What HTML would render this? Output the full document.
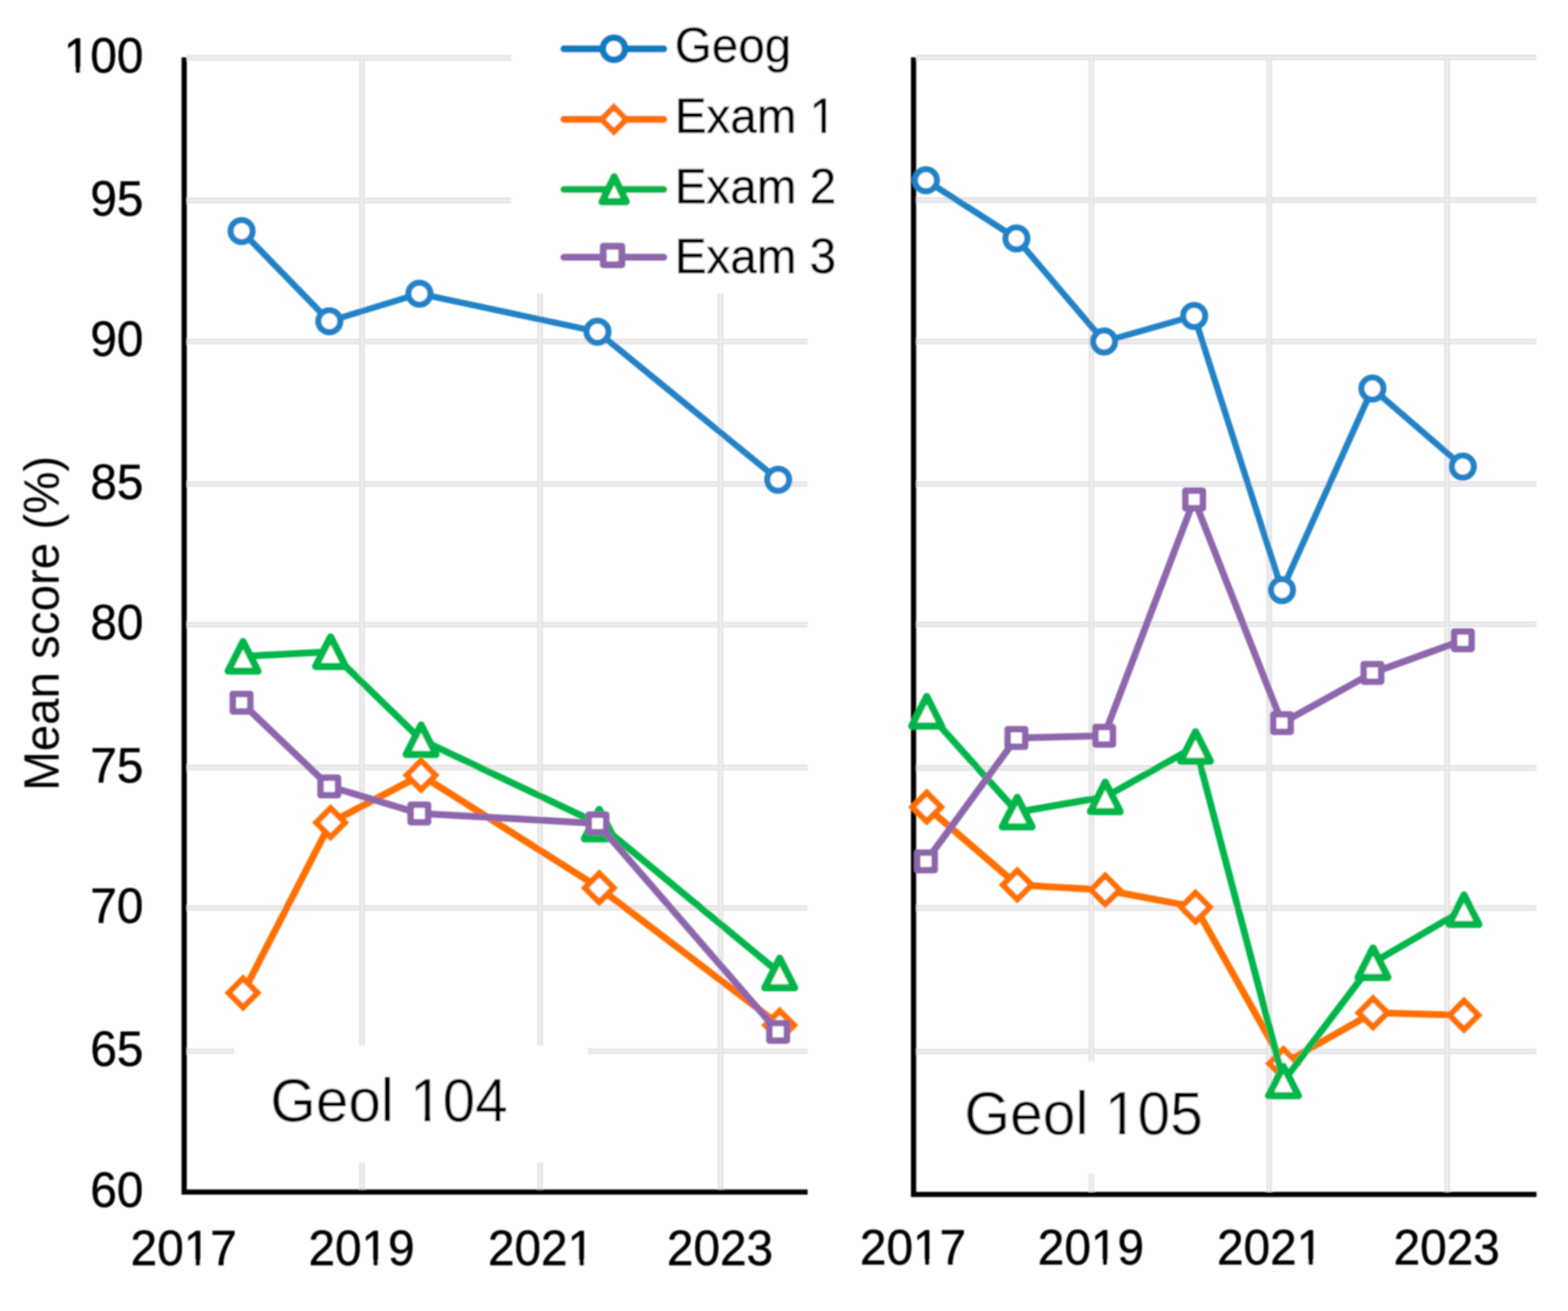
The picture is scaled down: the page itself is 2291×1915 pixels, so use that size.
<!DOCTYPE html>
<html><head><meta charset="utf-8"><title>Mean score chart</title>
<style>
html,body{margin:0;padding:0;background:#fff;}
body{width:2291px;height:1915px;overflow:hidden;}
svg{display:block;}
text{font-family:'Liberation Sans', Arial, sans-serif;fill:#000;font-kerning:none;}
.b{stroke:#000;stroke-width:0.7px;}
</style></head>
<body>
<svg width="2291" height="1915" viewBox="0 0 2291 1915">
<defs><filter id="soft" filterUnits="userSpaceOnUse" x="0" y="0" width="2291" height="1915"><feGaussianBlur stdDeviation="1"/></filter></defs>
<rect width="2291" height="1915" fill="#fff"/>
<g filter="url(#soft)">
<line x1="272.6" y1="84.4" x2="1180" y2="84.4" stroke="#f1f1f1" stroke-width="7.6"/><line x1="272.6" y1="81.6" x2="1180" y2="81.6" stroke="#dddddd" stroke-width="2"/><line x1="272.6" y1="87.2" x2="1180" y2="87.2" stroke="#dddddd" stroke-width="2"/>
<line x1="272.6" y1="292.9" x2="1180" y2="292.9" stroke="#f1f1f1" stroke-width="7.6"/><line x1="272.6" y1="290.1" x2="1180" y2="290.1" stroke="#dddddd" stroke-width="2"/><line x1="272.6" y1="295.7" x2="1180" y2="295.7" stroke="#dddddd" stroke-width="2"/>
<line x1="272.6" y1="498.7" x2="1180" y2="498.7" stroke="#f1f1f1" stroke-width="7.6"/><line x1="272.6" y1="495.9" x2="1180" y2="495.9" stroke="#dddddd" stroke-width="2"/><line x1="272.6" y1="501.5" x2="1180" y2="501.5" stroke="#dddddd" stroke-width="2"/>
<line x1="272.6" y1="707" x2="1180" y2="707" stroke="#f1f1f1" stroke-width="7.6"/><line x1="272.6" y1="704.2" x2="1180" y2="704.2" stroke="#dddddd" stroke-width="2"/><line x1="272.6" y1="709.8" x2="1180" y2="709.8" stroke="#dddddd" stroke-width="2"/>
<line x1="272.6" y1="912.5" x2="1180" y2="912.5" stroke="#f1f1f1" stroke-width="7.6"/><line x1="272.6" y1="909.7" x2="1180" y2="909.7" stroke="#dddddd" stroke-width="2"/><line x1="272.6" y1="915.3" x2="1180" y2="915.3" stroke="#dddddd" stroke-width="2"/>
<line x1="272.6" y1="1121.4" x2="1180" y2="1121.4" stroke="#f1f1f1" stroke-width="7.6"/><line x1="272.6" y1="1118.6" x2="1180" y2="1118.6" stroke="#dddddd" stroke-width="2"/><line x1="272.6" y1="1124.2" x2="1180" y2="1124.2" stroke="#dddddd" stroke-width="2"/>
<line x1="272.6" y1="1326.3" x2="1180" y2="1326.3" stroke="#f1f1f1" stroke-width="7.6"/><line x1="272.6" y1="1323.5" x2="1180" y2="1323.5" stroke="#dddddd" stroke-width="2"/><line x1="272.6" y1="1329.1" x2="1180" y2="1329.1" stroke="#dddddd" stroke-width="2"/>
<line x1="272.6" y1="1535.5" x2="1180" y2="1535.5" stroke="#f1f1f1" stroke-width="7.6"/><line x1="272.6" y1="1532.7" x2="1180" y2="1532.7" stroke="#dddddd" stroke-width="2"/><line x1="272.6" y1="1538.3" x2="1180" y2="1538.3" stroke="#dddddd" stroke-width="2"/>
<line x1="528.9" y1="84.4" x2="528.9" y2="1741.3" stroke="#f1f1f1" stroke-width="7.6"/><line x1="526.1" y1="84.4" x2="526.1" y2="1741.3" stroke="#dddddd" stroke-width="2"/><line x1="531.7" y1="84.4" x2="531.7" y2="1741.3" stroke="#dddddd" stroke-width="2"/>
<line x1="789.3" y1="84.4" x2="789.3" y2="1741.3" stroke="#f1f1f1" stroke-width="7.6"/><line x1="786.5" y1="84.4" x2="786.5" y2="1741.3" stroke="#dddddd" stroke-width="2"/><line x1="792.1" y1="84.4" x2="792.1" y2="1741.3" stroke="#dddddd" stroke-width="2"/>
<line x1="1052.7" y1="84.4" x2="1052.7" y2="1741.3" stroke="#f1f1f1" stroke-width="7.6"/><line x1="1049.9" y1="84.4" x2="1049.9" y2="1741.3" stroke="#dddddd" stroke-width="2"/><line x1="1055.5" y1="84.4" x2="1055.5" y2="1741.3" stroke="#dddddd" stroke-width="2"/>
<line x1="1338.3" y1="84" x2="2245" y2="84" stroke="#f1f1f1" stroke-width="7.6"/><line x1="1338.3" y1="81.2" x2="2245" y2="81.2" stroke="#dddddd" stroke-width="2"/><line x1="1338.3" y1="86.8" x2="2245" y2="86.8" stroke="#dddddd" stroke-width="2"/>
<line x1="1338.3" y1="292.3" x2="2245" y2="292.3" stroke="#f1f1f1" stroke-width="7.6"/><line x1="1338.3" y1="289.5" x2="2245" y2="289.5" stroke="#dddddd" stroke-width="2"/><line x1="1338.3" y1="295.1" x2="2245" y2="295.1" stroke="#dddddd" stroke-width="2"/>
<line x1="1338.3" y1="498.8" x2="2245" y2="498.8" stroke="#f1f1f1" stroke-width="7.6"/><line x1="1338.3" y1="496" x2="2245" y2="496" stroke="#dddddd" stroke-width="2"/><line x1="1338.3" y1="501.6" x2="2245" y2="501.6" stroke="#dddddd" stroke-width="2"/>
<line x1="1338.3" y1="707" x2="2245" y2="707" stroke="#f1f1f1" stroke-width="7.6"/><line x1="1338.3" y1="704.2" x2="2245" y2="704.2" stroke="#dddddd" stroke-width="2"/><line x1="1338.3" y1="709.8" x2="2245" y2="709.8" stroke="#dddddd" stroke-width="2"/>
<line x1="1338.3" y1="911.8" x2="2245" y2="911.8" stroke="#f1f1f1" stroke-width="7.6"/><line x1="1338.3" y1="909" x2="2245" y2="909" stroke="#dddddd" stroke-width="2"/><line x1="1338.3" y1="914.6" x2="2245" y2="914.6" stroke="#dddddd" stroke-width="2"/>
<line x1="1338.3" y1="1121.7" x2="2245" y2="1121.7" stroke="#f1f1f1" stroke-width="7.6"/><line x1="1338.3" y1="1118.9" x2="2245" y2="1118.9" stroke="#dddddd" stroke-width="2"/><line x1="1338.3" y1="1124.5" x2="2245" y2="1124.5" stroke="#dddddd" stroke-width="2"/>
<line x1="1338.3" y1="1326.4" x2="2245" y2="1326.4" stroke="#f1f1f1" stroke-width="7.6"/><line x1="1338.3" y1="1323.6" x2="2245" y2="1323.6" stroke="#dddddd" stroke-width="2"/><line x1="1338.3" y1="1329.2" x2="2245" y2="1329.2" stroke="#dddddd" stroke-width="2"/>
<line x1="1338.3" y1="1535.8" x2="2245" y2="1535.8" stroke="#f1f1f1" stroke-width="7.6"/><line x1="1338.3" y1="1533" x2="2245" y2="1533" stroke="#dddddd" stroke-width="2"/><line x1="1338.3" y1="1538.6" x2="2245" y2="1538.6" stroke="#dddddd" stroke-width="2"/>
<line x1="1594.6" y1="84" x2="1594.6" y2="1744.8" stroke="#f1f1f1" stroke-width="7.6"/><line x1="1591.8" y1="84" x2="1591.8" y2="1744.8" stroke="#dddddd" stroke-width="2"/><line x1="1597.4" y1="84" x2="1597.4" y2="1744.8" stroke="#dddddd" stroke-width="2"/>
<line x1="1854.4" y1="84" x2="1854.4" y2="1744.8" stroke="#f1f1f1" stroke-width="7.6"/><line x1="1851.6" y1="84" x2="1851.6" y2="1744.8" stroke="#dddddd" stroke-width="2"/><line x1="1857.2" y1="84" x2="1857.2" y2="1744.8" stroke="#dddddd" stroke-width="2"/>
<line x1="2114.4" y1="84" x2="2114.4" y2="1744.8" stroke="#f1f1f1" stroke-width="7.6"/><line x1="2111.6" y1="84" x2="2111.6" y2="1744.8" stroke="#dddddd" stroke-width="2"/><line x1="2117.2" y1="84" x2="2117.2" y2="1744.8" stroke="#dddddd" stroke-width="2"/>
<rect x="747" y="0" width="480" height="428.5" fill="#fff"/>
<rect x="342" y="1527" width="517" height="171" fill="#fff"/>
<rect x="1345" y="1550" width="500" height="164.5" fill="#fff"/>
<path d="M269.1,83.7 V1741.3 H1180" fill="none" stroke="#000" stroke-width="7.6" stroke-linejoin="miter"/>
<path d="M1334.8,83.7 V1744.8 H2245" fill="none" stroke="#000" stroke-width="7.6" stroke-linejoin="miter"/>
<polyline points="353,337.5 481.2,469.2 612.8,428.9 873,484.6 1137,700.7" fill="none" stroke="#2182c6" stroke-width="9.2" stroke-linejoin="round" stroke-linecap="round"/>
<circle cx="353" cy="337.5" r="16" fill="#fff" stroke="#2182c6" stroke-width="9"/>
<circle cx="481.2" cy="469.2" r="16" fill="#fff" stroke="#2182c6" stroke-width="9"/>
<circle cx="612.8" cy="428.9" r="16" fill="#fff" stroke="#2182c6" stroke-width="9"/>
<circle cx="873" cy="484.6" r="16" fill="#fff" stroke="#2182c6" stroke-width="9"/>
<circle cx="1137" cy="700.7" r="16" fill="#fff" stroke="#2182c6" stroke-width="9"/>
<polyline points="355.1,1450.3 483,1201.6 615.2,1132.3 875.6,1296.9 1139.2,1497.6" fill="none" stroke="#ff7000" stroke-width="10" stroke-linejoin="round" stroke-linecap="round"/>
<polygon points="355.1,1429.3 376.1,1450.3 355.1,1471.3 334.1,1450.3" fill="#fff" stroke="#ff7000" stroke-width="8.6" stroke-linejoin="miter" stroke-miterlimit="10"/>
<polygon points="483,1180.6 504,1201.6 483,1222.6 462,1201.6" fill="#fff" stroke="#ff7000" stroke-width="8.6" stroke-linejoin="miter" stroke-miterlimit="10"/>
<polygon points="615.2,1111.3 636.2,1132.3 615.2,1153.3 594.2,1132.3" fill="#fff" stroke="#ff7000" stroke-width="8.6" stroke-linejoin="miter" stroke-miterlimit="10"/>
<polygon points="875.6,1275.9 896.6,1296.9 875.6,1317.9 854.6,1296.9" fill="#fff" stroke="#ff7000" stroke-width="8.6" stroke-linejoin="miter" stroke-miterlimit="10"/>
<polygon points="1139.2,1476.6 1160.2,1497.6 1139.2,1518.6 1118.2,1497.6" fill="#fff" stroke="#ff7000" stroke-width="8.6" stroke-linejoin="miter" stroke-miterlimit="10"/>
<polyline points="355.1,958.8 483,951.9 615.2,1080.5 875.6,1203.7 1139.2,1421.3" fill="none" stroke="#00b64b" stroke-width="10" stroke-linejoin="round" stroke-linecap="round"/>
<polygon points="355.1,937.3 376.9,980.3 333.4,980.3" fill="#fff" stroke="#00b64b" stroke-width="10.5" stroke-linejoin="round"/>
<polygon points="483,930.4 504.8,973.4 461.2,973.4" fill="#fff" stroke="#00b64b" stroke-width="10.5" stroke-linejoin="round"/>
<polygon points="615.2,1059 637,1102 593.5,1102" fill="#fff" stroke="#00b64b" stroke-width="10.5" stroke-linejoin="round"/>
<polygon points="875.6,1182.2 897.4,1225.2 853.9,1225.2" fill="#fff" stroke="#00b64b" stroke-width="10.5" stroke-linejoin="round"/>
<polygon points="1139.2,1399.8 1161,1442.8 1117.5,1442.8" fill="#fff" stroke="#00b64b" stroke-width="10.5" stroke-linejoin="round"/>
<polyline points="353,1026.4 481.2,1148.8 612.8,1188.2 873,1202.7 1137,1507.3" fill="none" stroke="#8e66ac" stroke-width="10" stroke-linejoin="round" stroke-linecap="round"/>
<rect x="340.2" y="1013.7" width="25.5" height="25.5" fill="#fff" stroke="#8e66ac" stroke-width="9.5" stroke-linejoin="round"/>
<rect x="468.4" y="1136" width="25.5" height="25.5" fill="#fff" stroke="#8e66ac" stroke-width="9.5" stroke-linejoin="round"/>
<rect x="600" y="1175.5" width="25.5" height="25.5" fill="#fff" stroke="#8e66ac" stroke-width="9.5" stroke-linejoin="round"/>
<rect x="860.2" y="1190" width="25.5" height="25.5" fill="#fff" stroke="#8e66ac" stroke-width="9.5" stroke-linejoin="round"/>
<rect x="1124.2" y="1494.5" width="25.5" height="25.5" fill="#fff" stroke="#8e66ac" stroke-width="9.5" stroke-linejoin="round"/>
<polyline points="1352.9,263.3 1485.1,348.2 1613.2,498.8 1744.8,461.4 1873.1,861.9 2005.2,567.5 2137.3,681.6" fill="none" stroke="#2182c6" stroke-width="9.2" stroke-linejoin="round" stroke-linecap="round"/>
<circle cx="1352.9" cy="263.3" r="16" fill="#fff" stroke="#2182c6" stroke-width="9"/>
<circle cx="1485.1" cy="348.2" r="16" fill="#fff" stroke="#2182c6" stroke-width="9"/>
<circle cx="1613.2" cy="498.8" r="16" fill="#fff" stroke="#2182c6" stroke-width="9"/>
<circle cx="1744.8" cy="461.4" r="16" fill="#fff" stroke="#2182c6" stroke-width="9"/>
<circle cx="1873.1" cy="861.9" r="16" fill="#fff" stroke="#2182c6" stroke-width="9"/>
<circle cx="2005.2" cy="567.5" r="16" fill="#fff" stroke="#2182c6" stroke-width="9"/>
<circle cx="2137.3" cy="681.6" r="16" fill="#fff" stroke="#2182c6" stroke-width="9"/>
<polyline points="1354,1178.9 1486.3,1292.6 1614.9,1300 1746.8,1325.2 1875.3,1553.5 2006.1,1479.4 2139,1482.9" fill="none" stroke="#ff7000" stroke-width="10" stroke-linejoin="round" stroke-linecap="round"/>
<polygon points="1354,1157.9 1375,1178.9 1354,1199.9 1333,1178.9" fill="#fff" stroke="#ff7000" stroke-width="8.6" stroke-linejoin="miter" stroke-miterlimit="10"/>
<polygon points="1486.3,1271.6 1507.3,1292.6 1486.3,1313.6 1465.3,1292.6" fill="#fff" stroke="#ff7000" stroke-width="8.6" stroke-linejoin="miter" stroke-miterlimit="10"/>
<polygon points="1614.9,1279 1635.9,1300 1614.9,1321 1593.9,1300" fill="#fff" stroke="#ff7000" stroke-width="8.6" stroke-linejoin="miter" stroke-miterlimit="10"/>
<polygon points="1746.8,1304.2 1767.8,1325.2 1746.8,1346.2 1725.8,1325.2" fill="#fff" stroke="#ff7000" stroke-width="8.6" stroke-linejoin="miter" stroke-miterlimit="10"/>
<polygon points="1875.3,1532.5 1896.3,1553.5 1875.3,1574.5 1854.3,1553.5" fill="#fff" stroke="#ff7000" stroke-width="8.6" stroke-linejoin="miter" stroke-miterlimit="10"/>
<polygon points="2006.1,1458.4 2027.1,1479.4 2006.1,1500.4 1985.1,1479.4" fill="#fff" stroke="#ff7000" stroke-width="8.6" stroke-linejoin="miter" stroke-miterlimit="10"/>
<polygon points="2139,1461.9 2160,1482.9 2139,1503.9 2118,1482.9" fill="#fff" stroke="#ff7000" stroke-width="8.6" stroke-linejoin="miter" stroke-miterlimit="10"/>
<polyline points="1354,1039 1486.3,1186.3 1614.9,1164 1746.8,1090.4 1875.3,1579 2006.1,1406.2 2139,1328.8" fill="none" stroke="#00b64b" stroke-width="10" stroke-linejoin="round" stroke-linecap="round"/>
<polygon points="1354,1017.5 1375.8,1060.5 1332.2,1060.5" fill="#fff" stroke="#00b64b" stroke-width="10.5" stroke-linejoin="round"/>
<polygon points="1486.3,1164.8 1508,1207.8 1464.5,1207.8" fill="#fff" stroke="#00b64b" stroke-width="10.5" stroke-linejoin="round"/>
<polygon points="1614.9,1142.5 1636.7,1185.5 1593.2,1185.5" fill="#fff" stroke="#00b64b" stroke-width="10.5" stroke-linejoin="round"/>
<polygon points="1746.8,1068.9 1768.5,1111.9 1725,1111.9" fill="#fff" stroke="#00b64b" stroke-width="10.5" stroke-linejoin="round"/>
<polygon points="1875.3,1557.5 1897,1600.5 1853.5,1600.5" fill="#fff" stroke="#00b64b" stroke-width="10.5" stroke-linejoin="round"/>
<polygon points="2006.1,1384.7 2027.8,1427.7 1984.3,1427.7" fill="#fff" stroke="#00b64b" stroke-width="10.5" stroke-linejoin="round"/>
<polygon points="2139,1307.3 2160.8,1350.3 2117.2,1350.3" fill="#fff" stroke="#00b64b" stroke-width="10.5" stroke-linejoin="round"/>
<polyline points="1352.9,1258.3 1485.1,1077.9 1613.2,1074.8 1744.8,729.5 1873.1,1056.2 2005.2,983 2137.3,935.2" fill="none" stroke="#8e66ac" stroke-width="10" stroke-linejoin="round" stroke-linecap="round"/>
<rect x="1340.2" y="1245.5" width="25.5" height="25.5" fill="#fff" stroke="#8e66ac" stroke-width="9.5" stroke-linejoin="round"/>
<rect x="1472.3" y="1065.2" width="25.5" height="25.5" fill="#fff" stroke="#8e66ac" stroke-width="9.5" stroke-linejoin="round"/>
<rect x="1600.5" y="1062" width="25.5" height="25.5" fill="#fff" stroke="#8e66ac" stroke-width="9.5" stroke-linejoin="round"/>
<rect x="1732" y="716.8" width="25.5" height="25.5" fill="#fff" stroke="#8e66ac" stroke-width="9.5" stroke-linejoin="round"/>
<rect x="1860.3" y="1043.5" width="25.5" height="25.5" fill="#fff" stroke="#8e66ac" stroke-width="9.5" stroke-linejoin="round"/>
<rect x="1992.5" y="970.2" width="25.5" height="25.5" fill="#fff" stroke="#8e66ac" stroke-width="9.5" stroke-linejoin="round"/>
<rect x="2124.6" y="922.5" width="25.5" height="25.5" fill="#fff" stroke="#8e66ac" stroke-width="9.5" stroke-linejoin="round"/>
<g transform="translate(209.5,106) scale(0.955,1)"><text font-size="73" text-anchor="end" class="b">100</text><rect x="-117.1" y="-6.5" width="13.3" height="8" fill="#fff"/><rect x="-96.6" y="-6.5" width="13.1" height="8" fill="#fff"/></g>
<g transform="translate(209.5,314.5) scale(0.955,1)"><text font-size="73" text-anchor="end" class="b">95</text></g>
<g transform="translate(209.5,520.3) scale(0.955,1)"><text font-size="73" text-anchor="end" class="b">90</text></g>
<g transform="translate(209.5,728.6) scale(0.955,1)"><text font-size="73" text-anchor="end" class="b">85</text></g>
<g transform="translate(209.5,934.1) scale(0.955,1)"><text font-size="73" text-anchor="end" class="b">80</text></g>
<g transform="translate(209.5,1143) scale(0.955,1)"><text font-size="73" text-anchor="end" class="b">75</text></g>
<g transform="translate(209.5,1347.9) scale(0.955,1)"><text font-size="73" text-anchor="end" class="b">70</text></g>
<g transform="translate(209.5,1557.1) scale(0.955,1)"><text font-size="73" text-anchor="end" class="b">65</text></g>
<g transform="translate(209.5,1762.9) scale(0.955,1)"><text font-size="73" text-anchor="end" class="b">60</text></g>
<g transform="translate(268.4,1847.6) scale(0.955,1)"><text font-size="73" text-anchor="middle" class="b">2017</text><rect x="4.7" y="-6.5" width="13.3" height="8" fill="#fff"/><rect x="25.2" y="-6.5" width="13.1" height="8" fill="#fff"/></g>
<g transform="translate(528.2,1847.6) scale(0.955,1)"><text font-size="73" text-anchor="middle" class="b">2019</text><rect x="4.7" y="-6.5" width="13.3" height="8" fill="#fff"/><rect x="25.2" y="-6.5" width="13.1" height="8" fill="#fff"/></g>
<g transform="translate(790.6,1847.6) scale(0.955,1)"><text font-size="73" text-anchor="middle" class="b">2021</text><rect x="45.3" y="-6.5" width="13.3" height="8" fill="#fff"/><rect x="65.8" y="-6.5" width="13.1" height="8" fill="#fff"/></g>
<g transform="translate(1052,1847.6) scale(0.955,1)"><text font-size="73" text-anchor="middle" class="b">2023</text></g>
<g transform="translate(1334.1,1847.3) scale(0.955,1)"><text font-size="73" text-anchor="middle" class="b">2017</text><rect x="4.7" y="-6.5" width="13.3" height="8" fill="#fff"/><rect x="25.2" y="-6.5" width="13.1" height="8" fill="#fff"/></g>
<g transform="translate(1593.9,1847.3) scale(0.955,1)"><text font-size="73" text-anchor="middle" class="b">2019</text><rect x="4.7" y="-6.5" width="13.3" height="8" fill="#fff"/><rect x="25.2" y="-6.5" width="13.1" height="8" fill="#fff"/></g>
<g transform="translate(1855.7,1847.3) scale(0.955,1)"><text font-size="73" text-anchor="middle" class="b">2021</text><rect x="45.3" y="-6.5" width="13.3" height="8" fill="#fff"/><rect x="65.8" y="-6.5" width="13.1" height="8" fill="#fff"/></g>
<g transform="translate(2113.7,1847.3) scale(0.955,1)"><text font-size="73" text-anchor="middle" class="b">2023</text></g>
<text transform="translate(85.7,910.5) rotate(-90) scale(0.963,1)" font-size="72" text-anchor="middle">Mean score (%)</text>
<g transform="translate(394.9,1638.4) scale(0.966,1)"><text font-size="88.5" text-anchor="start" >Geol 104</text><rect x="217.2" y="-7.6" width="16.2" height="9.1" fill="#fff"/><rect x="242" y="-7.6" width="15.9" height="9.1" fill="#fff"/></g>
<g transform="translate(1409,1656.9) scale(0.97,1)"><text font-size="88.5" text-anchor="start" >Geol 105</text><rect x="217.2" y="-7.6" width="16.2" height="9.1" fill="#fff"/><rect x="242" y="-7.6" width="15.9" height="9.1" fill="#fff"/></g>
<line x1="823.8" y1="71.2" x2="969.8" y2="71.2" stroke="#0f7bc1" stroke-width="10.4" stroke-linecap="round"/>
<g transform="translate(986,91.4) scale(0.965,1)"><text font-size="72" text-anchor="start" class="b">Geog</text></g>
<line x1="823.8" y1="174.2" x2="969.8" y2="174.2" stroke="#ff7000" stroke-width="10.4" stroke-linecap="round"/>
<g transform="translate(986,194.3) scale(0.965,1)"><text font-size="72" text-anchor="start" class="b">Exam 1</text><rect x="208.7" y="-6.4" width="13.2" height="7.9" fill="#fff"/><rect x="228.9" y="-6.4" width="12.9" height="7.9" fill="#fff"/></g>
<line x1="823.8" y1="276.6" x2="969.8" y2="276.6" stroke="#00b64b" stroke-width="10.4" stroke-linecap="round"/>
<g transform="translate(986,297) scale(0.965,1)"><text font-size="72" text-anchor="start" class="b">Exam 2</text></g>
<line x1="823.8" y1="375.7" x2="969.8" y2="375.7" stroke="#8e66ac" stroke-width="10.4" stroke-linecap="round"/>
<g transform="translate(986,398.6) scale(0.965,1)"><text font-size="72" text-anchor="start" class="b">Exam 3</text></g>
<circle cx="897" cy="71.2" r="16.3" fill="#fff" stroke="#0f7bc1" stroke-width="10"/>
<polygon points="897,156.2 915.2,174.4 897,192.6 878.8,174.4" fill="#fff" stroke="#ff7000" stroke-width="8.6" stroke-linejoin="miter" stroke-miterlimit="10"/>
<polygon points="897.4,258.2 915.1,294.8 879.6,294.8" fill="#fff" stroke="#00b64b" stroke-width="11" stroke-linejoin="round"/>
<rect x="881.4" y="359.7" width="27.2" height="27.2" fill="#fff" stroke="#8e66ac" stroke-width="10.2" stroke-linejoin="round"/>
</g>
</svg>
</body></html>
